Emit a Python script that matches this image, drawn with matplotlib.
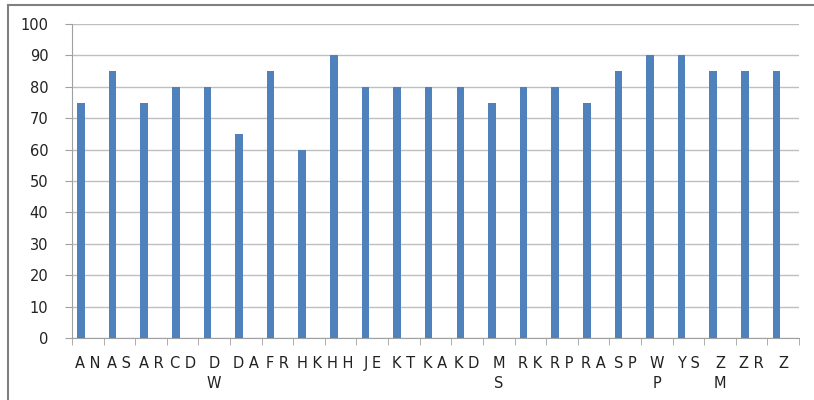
import matplotlib
matplotlib.use("Agg")
import matplotlib.pyplot as plt
from matplotlib.patches import Rectangle

categories = ["A N", "A S", "A R", "C D", "D\nW", "D A", "F R", "H K", "H H", "J E",
              "K T", "K A", "K D", "M\nS", "R K", "R P", "R A", "S P", "W\nP", "Y S",
              "Z\nM", "Z R", "Z"]
values = [75, 85, 75, 80, 80, 65, 85, 60, 90, 80, 80, 80, 80, 75, 80, 80, 75, 85,
          90, 90, 85, 85, 85]
yticks = [0, 10, 20, 30, 40, 50, 60, 70, 80, 90, 100]

plt.rcParams['font.family'] = ['DejaVu Sans']

W, H = 814, 400
fig = plt.figure(figsize=(W / 100, H / 100), dpi=100)
ax = fig.add_axes([72 / W, 1 - 338 / H, (799 - 72) / W, (338 - 24) / H])

x = list(range(len(categories)))
# clustered-bar layout: the visible series sits left of the category centre
bar_x = [i - 0.215 for i in x]
ax.bar(bar_x, values, width=0.24, color="#4F81BD", zorder=3)
ax.set_xlim(-0.5, len(categories) - 0.5)
ax.set_ylim(0, 100)
ax.set_yticks(yticks)
ax.set_yticklabels([str(t) for t in yticks], fontsize=10.5, color="#222222")
ax.yaxis.grid(True, color="#BFBFBF", linewidth=1, zorder=0)
ax.set_axisbelow(True)

ax.set_xticks(x)
ax.set_xticklabels(categories, fontsize=10.5, color="#222222", linespacing=1.4,
                   va="top")
ax.set_xticks([i - 0.5 for i in range(len(categories) + 1)], minor=True)
ax.tick_params(axis="x", which="major", length=0, pad=13)
ax.tick_params(axis="x", which="minor", length=5, color="#A0A0A0", direction="out")
ax.tick_params(axis="y", length=5, color="#A0A0A0", pad=12)

for s in ["top", "right"]:
    ax.spines[s].set_visible(False)
for s in ["left", "bottom"]:
    ax.spines[s].set_color("#A0A0A0")

# outer chart border
fig.patches.append(Rectangle((8 / W, -0.05), 1.2, 1 - 5 / H + 0.05,
                             transform=fig.transFigure, fill=False,
                             edgecolor="#808080", linewidth=1.5))

fig.savefig("out.png", dpi=100)
